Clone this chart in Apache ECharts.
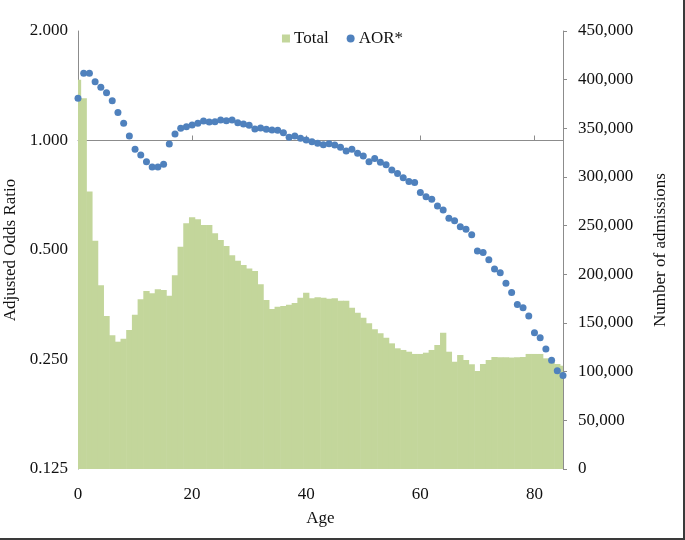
<!DOCTYPE html>
<html>
<head>
<meta charset="utf-8">
<script src="https://cdn.jsdelivr.net/npm/echarts@6/dist/echarts.min.js"></script>
<style>
  html, body { margin: 0; padding: 0; background: #fff; }
  #wrap { position: relative; width: 685px; height: 540px; }
  #chart { position: absolute; left: 0; top: 0; width: 685px; height: 540px; }
  #frame { position: absolute; left: 0; top: 0; width: 685px; height: 540px; box-sizing: border-box;
           border-right: 2px solid #3a3a3a; border-bottom: 2px solid #3a3a3a; pointer-events: none; }
</style>
</head>
<body>
<div id="wrap"><div id="chart"></div><div id="frame"></div></div>
<script>
// ---- Data ----
const ages = [];
for (let a = 0; a <= 85; a++) ages.push(String(a));

const totalAdmissions = [
  400000, 381000, 285000, 234600, 188700, 157200, 137300, 130800, 133900, 142800,
  158500, 174300, 182900, 180500, 184600, 183900, 178000, 199000, 228400, 252400,
  258600, 256500, 250700, 250700, 242100, 235300, 229100, 219500, 214000, 209600,
  206100, 203400, 189800, 173600, 164400, 166700, 167500, 168800, 170500, 176000,
  181100, 175400, 176400, 176000, 175000, 175400, 172900, 172900, 165700, 160600,
  155400, 149700, 143500, 139400, 134900, 129100, 124000, 122300, 120500, 118200,
  118200, 119500, 122300, 127400, 140000, 120500, 110200, 117100, 112000, 107600,
  100700, 107900, 112000, 115100, 114800, 114800, 114500, 114800, 115100, 118200,
  118200, 118200, 113700, 110200, 107900, 106100
];

const aor = [
  1.306, 1.530, 1.530, 1.451, 1.400, 1.353, 1.287, 1.193, 1.115, 1.029,
  0.946, 0.912, 0.874, 0.846, 0.846, 0.860, 0.978, 1.042, 1.080, 1.091,
  1.103, 1.115, 1.131, 1.124, 1.126, 1.139, 1.134, 1.139, 1.119, 1.110,
  1.101, 1.076, 1.082, 1.073, 1.069, 1.067, 1.051, 1.020, 1.029, 1.014,
  1.003, 0.992, 0.982, 0.974, 0.980, 0.972, 0.958, 0.936, 0.946, 0.922,
  0.907, 0.874, 0.893, 0.871, 0.858, 0.830, 0.812, 0.790, 0.771, 0.766,
  0.720, 0.700, 0.689, 0.661, 0.644, 0.611, 0.602, 0.579, 0.570, 0.551,
  0.497, 0.492, 0.470, 0.443, 0.433, 0.405, 0.382, 0.354, 0.347, 0.329,
  0.296, 0.287, 0.267, 0.249, 0.233, 0.226
];

const leftTicks = [0.125, 0.25, 0.5, 1, 2];
const rightMax = 450000;
const rightInterval = 50000;
const refLineValue = 1;

// ---- Layout ----
const FONT = "'Liberation Serif', 'Times New Roman', serif";
const gridTop = 31, gridBottom = 71, gridLeft = 78, gridRight = 122;
const gridH = 540 - gridTop - gridBottom;
const lmin = Math.log2(leftTicks[0]), lmax = Math.log2(leftTicks[leftTicks.length - 1]);
const refOffset = -gridH * (lmax - Math.log2(refLineValue)) / (lmax - lmin);

const axisGray = '#8c8c8c';
const barColor = '#c3d69b';
const txt = { color: '#111', fontFamily: FONT, fontSize: 17 };

const barData = totalAdmissions.map((v, i) => [i, v]);

function renderBar(params, api) {
  const idx = api.value(0);
  const val = api.value(1);
  const top = api.coord([idx, val]);
  const base = api.coord([idx, 0]);
  const w = api.size([1, 0])[0] + 0.6;
  const shape = echarts.graphic.clipRectByRect(
    { x: top[0] - w / 2, y: top[1], width: w, height: base[1] - top[1] },
    { x: params.coordSys.x, y: params.coordSys.y, width: params.coordSys.width, height: params.coordSys.height }
  );
  return shape && { type: 'rect', shape: shape, style: { fill: barColor } };
}

const chart = echarts.init(document.getElementById('chart'), null, { renderer: 'canvas' });
chart.setOption({
  animation: false,
  backgroundColor: '#fff',
  textStyle: { fontFamily: FONT },
  legend: {
    data: [
      { name: 'Total', icon: 'rect', itemStyle: { color: barColor } },
      { name: 'AOR*', icon: 'circle' }
    ],
    top: 25, left: 'center',
    itemWidth: 8, itemHeight: 8, itemGap: 18,
    textStyle: Object.assign({}, txt, { padding: [0, 0, 0, -1] })
  },
  grid: { left: gridLeft, right: gridRight, top: gridTop, bottom: gridBottom,
          containLabel: false, outerBoundsMode: 'none' },
  xAxis: [
    {
      type: 'category', data: ages, boundaryGap: false, position: 'bottom',
      name: 'Age', nameLocation: 'middle', nameGap: 41, nameTextStyle: txt,
      axisLine: { show: false }, axisTick: { show: false },
      axisLabel: Object.assign({}, txt, { interval: 19, margin: 17 }),
      splitLine: { show: false }
    },
    {
      type: 'category', data: ages, boundaryGap: false, position: 'top', offset: refOffset,
      axisLine: { show: true, lineStyle: { color: axisGray, width: 1 } },
      axisTick: { show: true, inside: false, length: 5, lineStyle: { color: axisGray },
                  interval: function (i) { return i > 0 && i % 20 === 0; } },
      axisLabel: { show: false }, splitLine: { show: false }
    }
  ],
  yAxis: [
    {
      type: 'log', logBase: 2, min: leftTicks[0], max: leftTicks[leftTicks.length - 1], interval: 1,
      position: 'left',
      name: 'Adjusted Odds Ratio', nameLocation: 'middle', nameGap: 57, nameTextStyle: txt,
      axisLine: { show: true, lineStyle: { color: axisGray } },
      axisTick: { show: false },
      axisLabel: Object.assign({}, txt, { margin: 10, formatter: v => Number(v).toFixed(3) }),
      splitLine: { show: false }
    },
    {
      type: 'value', min: 0, max: rightMax, interval: rightInterval, position: 'right',
      name: 'Number of admissions', nameLocation: 'middle', nameGap: 89, nameTextStyle: txt,
      axisLine: { show: true, lineStyle: { color: axisGray } },
      axisTick: { show: true, inside: false, length: 4, lineStyle: { color: axisGray } },
      axisLabel: Object.assign({}, txt, { margin: 15, formatter: v => Number(v).toLocaleString('en-US') }),
      splitLine: { show: false }
    }
  ],
  series: [
    {
      name: 'Total', type: 'custom', xAxisIndex: 0, yAxisIndex: 1,
      data: barData, encode: { x: 0, y: 1 }, renderItem: renderBar,
      itemStyle: { color: barColor }, z: 2
    },
    {
      name: 'AOR*', type: 'scatter', xAxisIndex: 0, yAxisIndex: 0,
      data: aor, symbol: 'circle', symbolSize: 7,
      itemStyle: { color: '#4f81bd', opacity: 1 }, z: 3
    }
  ]
});
</script>
</body>
</html>
